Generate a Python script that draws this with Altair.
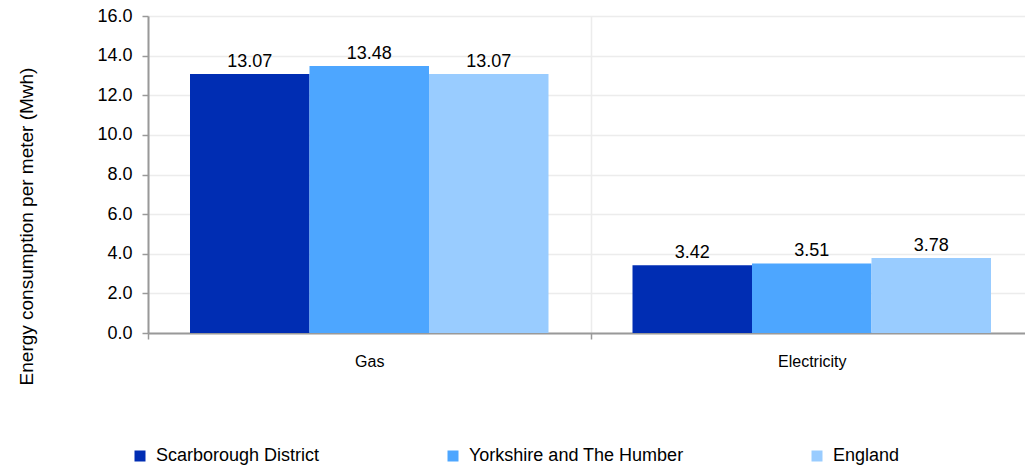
import altair as alt
import pandas as pd

categories = ["Gas", "Electricity"]
series = ["Scarborough District", "Yorkshire and The Humber", "England"]
colors = ["#002db3", "#4da6ff", "#99ccff"]
gas_values = [13.07, 13.48, 13.07]
electricity_values = [3.42, 3.51, 3.78]
y_ticks = [0, 2, 4, 6, 8, 10, 12, 14, 16]

rows = []
for s, v in zip(series, gas_values):
    rows.append({"fuel": "Gas", "area": s, "value": v})
for s, v in zip(series, electricity_values):
    rows.append({"fuel": "Electricity", "area": s, "value": v})
df = pd.DataFrame(rows)

FONT = "Liberation Sans"

x = alt.X(
    "fuel:N",
    sort=categories,
    title=None,
    scale=alt.Scale(paddingInner=0, paddingOuter=0, range=[0, 885]),
    axis=alt.Axis(
        labelAngle=0,
        labelFontSize=16,
        labelColor="#000000",
        labelPadding=14,
        tickBand="extent",
        tickSize=6,
        tickColor="#999999",
        tickWidth=1.5,
        domainColor="#999999",
        domainWidth=2,
        grid=True,
        gridColor="#ececec",
        gridWidth=1.5,
    ),
)
xoff = alt.XOffset(
    "area:N",
    sort=series,
    scale=alt.Scale(domain=series, paddingInner=0, paddingOuter=0.3515),
)
y = alt.Y(
    "value:Q",
    scale=alt.Scale(domain=[0, 16], nice=False),
    axis=alt.Axis(
        values=y_ticks,
        format=".1f",
        labelOverlap=False,
        title="Energy consumption per meter (Mwh)",
        titleFontSize=19,
        titleFontWeight="normal",
        titleColor="#000000",
        titleAngle=270,
        titleAlign="center",
        titleBaseline="middle",
        titleX=-122,
        titleY=210,
        labelFontSize=18,
        labelColor="#000000",
        labelPadding=10,
        tickSize=6,
        tickColor="#999999",
        tickWidth=1.5,
        domainColor="#999999",
        domainWidth=2,
        grid=True,
        gridColor="#ececec",
        gridWidth=1.5,
    ),
)
color = alt.Color(
    "area:N",
    sort=series,
    scale=alt.Scale(domain=series, range=colors),
    legend=alt.Legend(
        title=None,
        orient="none",
        direction="horizontal",
        legendX=-17,
        legendY=431,
        symbolType="square",
        symbolSize=121,
        symbolStrokeWidth=0,
        symbolOpacity=1,
        labelFontSize=18,
        labelColor="#000000",
        labelOffset=7,
        labelLimit=400,
        columnPadding=124,
    ),
)

base = alt.Chart(df).encode(x=x, xOffset=xoff, y=y)
bars = base.mark_bar(opacity=1).encode(color=color)
labels = base.mark_text(
    baseline="alphabetic", dy=-7, fontSize=18, color="#000000", font=FONT
).encode(text=alt.Text("value:Q", format=".2f"))

chart = (
    alt.layer(bars, labels)
    .properties(
        width=877,
        height=317,
        autosize=alt.AutoSizeParams(type="none"),
        padding={"left": 140, "top": 8, "right": 0, "bottom": 135},
    )
    .configure(font=FONT)
    .configure_view(stroke=None)
)

chart.save("out.html", embed_options={"renderer": "svg", "actions": False})
